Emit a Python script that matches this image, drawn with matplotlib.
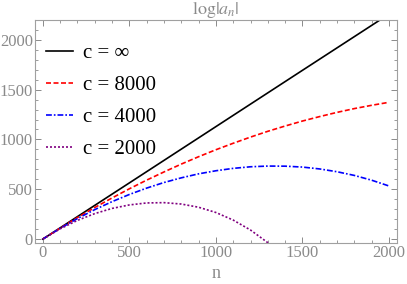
import matplotlib
matplotlib.use('Agg')
import matplotlib.pyplot as plt
from matplotlib.ticker import MultipleLocator

# values
n_inf = [0, 500, 1000, 1500, 2000]
y_inf = [0, 564, 1129, 1694, 2258]

n = list(range(0, 2001, 100))
y_8000 = [0, 110, 216, 317, 413, 505, 592, 674, 753, 827, 897, 962, 1024,
          1082, 1135, 1185, 1230, 1272, 1310, 1343, 1373]
y_4000 = [0, 108, 206, 296, 376, 448, 512, 568, 615, 655, 686, 710, 726,
          733, 732, 723, 704, 676, 639, 591, 533]
n_2000 = list(range(0, 1401, 100))
y_2000 = [0, 103, 188, 256, 308, 343, 363, 366, 352, 320, 267, 191, 91, -36, -195]

serif = ['Liberation Serif', 'DejaVu Serif']
plt.rcParams['font.family'] = serif
plt.rcParams['mathtext.fontset'] = 'stix'
gray = '#8a8a8a'

fig = plt.figure(figsize=(4.07, 2.84), dpi=100)
ax = fig.add_axes([0.086, 0.144, 0.889, 0.786])

ax.plot(n_inf, y_inf, color='black', lw=1.2, label='c = ∞')
ax.plot(n, y_8000, color='red', lw=1.2, dashes=(3, 1.5), label='c = 8000')
ax.plot(n, y_4000, color='blue', lw=1.2, dashes=(3.5, 1.2, 1, 1.2), label='c = 4000')
ax.plot(n_2000, y_2000, color='purple', lw=1.2, dashes=(1.2, 1.2), label='c = 2000')

ax.set_xlim(-45, 2045)
ax.set_ylim(-40, 2200)
ax.xaxis.set_major_locator(MultipleLocator(500))
ax.xaxis.set_minor_locator(MultipleLocator(100))
ax.yaxis.set_major_locator(MultipleLocator(500))
ax.yaxis.set_minor_locator(MultipleLocator(100))
ax.tick_params(which='both', direction='in', top=True, right=True,
               color=gray, labelcolor=gray, labelsize=12)
ax.tick_params(which='major', length=4, width=0.7, pad=1.5)
ax.tick_params(which='minor', length=2, width=0.6)
for s in ax.spines.values():
    s.set_color('#a0a0a0')
    s.set_linewidth(0.8)

ax.set_title(r'$\log|a_n|$', color=gray, fontsize=13, pad=1)
ax.set_xlabel('n', color=gray, fontsize=13, labelpad=3)

ax.legend(loc='upper left', bbox_to_anchor=(0.03, 0.895), frameon=False,
          fontsize=15, handlelength=1.3, handletextpad=0.5, labelspacing=0.6,
          borderpad=0, borderaxespad=0)

plt.savefig('out.png', dpi=100)
